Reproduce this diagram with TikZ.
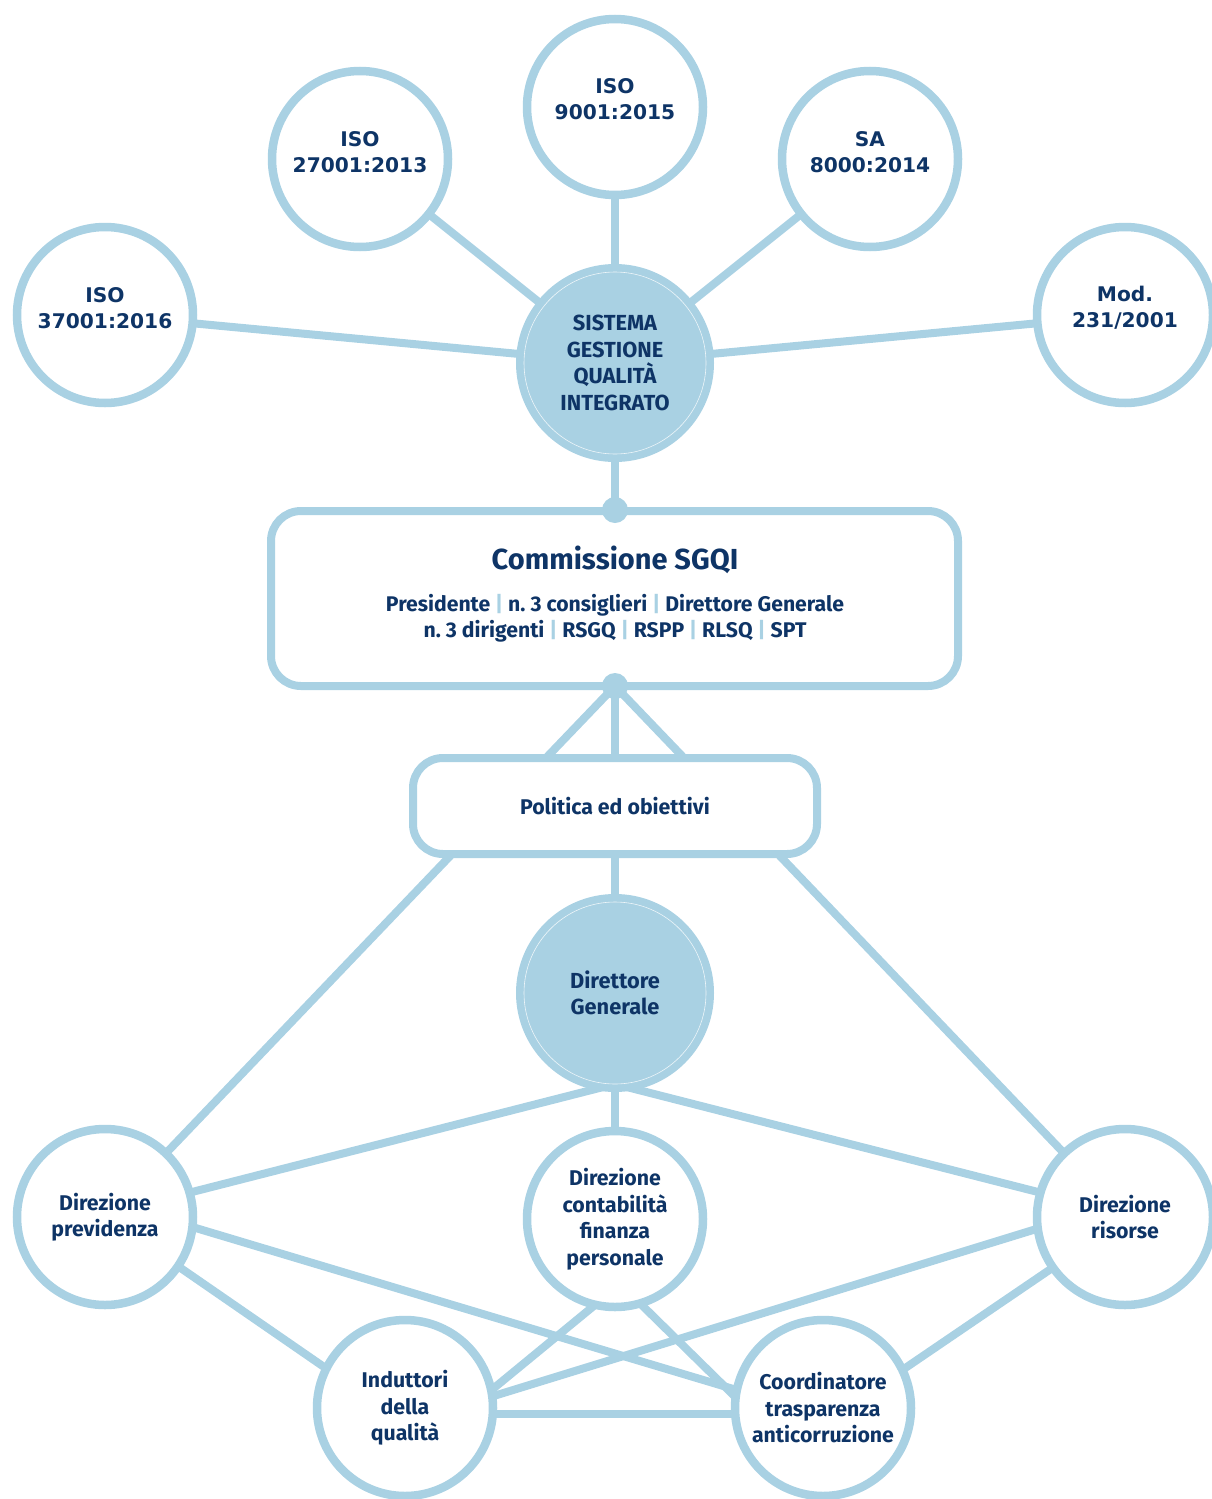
\documentclass[tikz,border=0pt]{standalone}
\usepackage{fontspec}
\setmainfont{Fira Sans}
\newfontfamily\widefont{DejaVu Sans}
\usetikzlibrary{calc}
\definecolor{ring}{HTML}{A9D1E3}
\definecolor{navy}{HTML}{0E3466}
\pgfdeclarelayer{bg}
\pgfsetlayers{bg,main}

\begin{document}
\begin{tikzpicture}[x=1pt,y=-1pt,
  every node/.style={text=navy, align=center},
  normtxt/.style={font=\fontsize{21.3}{26.5}\selectfont\bfseries},
  reftxt/.style={font=\widefont\fontsize{20.2}{26}\selectfont\bfseries, inner sep=0pt},
  ring node/.style={circle, draw=ring, line width=8.5pt, fill=white,
    minimum size=176pt, inner sep=0pt},
  unit/.style={ring node, normtxt},
  hub/.style={circle, fill=ring, draw=none, minimum size=198pt, inner sep=0pt,
    font=\fontsize{21.8}{26.5}\selectfont\bfseries},
  panel/.style={rectangle, draw=ring, line width=8pt, fill=white, rounded corners=30pt, inner sep=0pt},
  joint/.style={circle, fill=ring, draw=none, minimum size=26pt, inner sep=0pt},
  link/.style={draw=ring, line width=8pt, shorten <=-4pt, shorten >=-4pt}]
\useasboundingbox (0,0) rectangle (1211,1499);

% standards around the integrated system
\node[ring node] (iso37) at (105,315) {};
\node[ring node] (iso27) at (360,159) {};
\node[ring node] (iso9)  at (615,107) {};
\node[ring node] (sa)    at (870,159) {};
\node[ring node] (mod)   at (1125,315) {};
\node[reftxt] (iso37t) at ($(iso37)+(0,-7)$) {ISO\\37001:2016};
\node[reftxt] (iso27t) at ($(iso27)+(0,-7)$) {ISO\\27001:2013};
\node[reftxt] (iso9t)  at ($(iso9)+(0,-8)$)  {ISO\\9001:2015};
\node[reftxt] (sat)    at ($(sa)+(0,-7)$)    {SA\\8000:2014};
\node[reftxt] (modt)   at ($(mod)+(0,-7)$)   {Mod.\\231/2001};

\node[hub] (sgqi) at (615,363) {SISTEMA\\GESTIONE\\QUALITÀ\\INTEGRATO};
\draw[white, line width=0.6pt, opacity=0.8] (sgqi.center) circle (91pt);

% commission
\node[panel, minimum width=687pt, minimum height=175pt] (comm) at (614.5,598.5) {};
\node[font=\fontsize{29}{32}\selectfont\bfseries] (commtitle) at (615,560) {Commissione SGQI};
\node[font=\fontsize{21.2}{26}\selectfont\bfseries] (commlist) at (615,618)
  {Presidente {\color{ring}|} n.~3 consiglieri {\color{ring}|} Direttore Generale\\
   n.~3 dirigenti {\color{ring}|} RSGQ {\color{ring}|} RSPP {\color{ring}|} RLSQ {\color{ring}|} SPT};
\node[joint] (dot1) at (615,510) {};
\node[joint] (dot2) at (615,686) {};

% policy
\node[panel, minimum width=404pt, minimum height=96pt, normtxt] (pol) at (615,806) {Politica ed obiettivi};
\coordinate (polTL) at (546,758);
\coordinate (polTR) at (684,758);
\coordinate (polBL) at (452,854);
\coordinate (polBR) at (778,854);

% general manager
\node[hub] (dg) at (615,993) {Direttore\\Generale};
\draw[white, line width=0.6pt, opacity=0.8] (dg.center) circle (91pt);
\coordinate (dgfoot) at (615,1084);

% directions and roles
\node[unit] (prev)  at (105,1217) {Direzione\\previdenza};
\node[unit] (cont)  at (615,1219) {Direzione\\contabilità\\finanza\\personale};
\node[unit] (ris)   at (1125,1217) {Direzione\\risorse};
\node[unit] (ind)   at (405,1408) {Induttori\\della\\qualità};
\node[unit] (coord) at (823,1408) {Coordinatore\\trasparenza\\anticorruzione};

\begin{pgfonlayer}{bg}
  \draw[link] (sgqi) -- (iso37);
  \draw[link] (sgqi) -- (iso27);
  \draw[link] (sgqi) -- (iso9);
  \draw[link] (sgqi) -- (sa);
  \draw[link] (sgqi) -- (mod);
  \draw[link] (sgqi.center) -- (dot1.center);
  \draw[link] (dot2.center) -- (polTL);
  \draw[link] (dot2.center) -- (pol.center);
  \draw[link] (dot2.center) -- (polTR);
  \draw[link] (polBL) -- (prev);
  \draw[link] (pol.center) -- (dg.center);
  \draw[link] (polBR) -- (ris);
  \draw[link] (dgfoot) -- (prev.16);
  \draw[link] (dgfoot) -- (cont.north);
  \draw[link] (dgfoot) -- (ris.164);
  \draw[link] (prev.-34) -- (ind.153);
  \draw[link] (prev.-7) -- (coord.168);
  \draw[link] (cont.-105) -- (ind.13);
  \draw[link] (cont.-72) -- (coord.171);
  \draw[link] (ris.188) -- (ind.8);
  \draw[link] (ris.215) -- (coord.26);
  \draw[link] (ind.-4) -- (coord.184);
\end{pgfonlayer}
\end{tikzpicture}
\end{document}
